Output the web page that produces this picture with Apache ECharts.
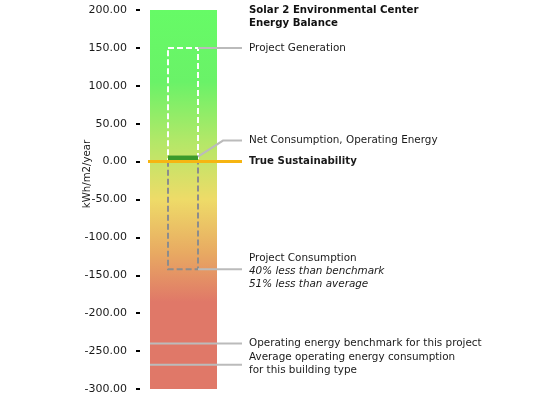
<!DOCTYPE html>
<html>
<head>
<meta charset="utf-8">
<script src="https://cdn.jsdelivr.net/npm/echarts@6/dist/echarts.min.js"></script>
<style>
html,body{margin:0;padding:0;background:#fff;}
#chart{width:553px;height:400px;}
</style>
</head>
<body>
<div id="chart"></div>
<script>
// ---- data ----
const axisRange = [-300, 200];
const axisStep = 50;
const axisTitle = 'kWh/m2/year';
const chartTitle = ['Solar 2 Environmental Center', 'Energy Balance'];
const generation = [0, 150];          // Project Generation
const consumption = [0, -142];        // Project Consumption
const netConsumption = [0, 8];        // Net Consumption, Operating Energy
const sustainability = [0];           // True Sustainability
const referenceNames = ['Operating energy benchmark for this project', 'Average operating energy consumption\nfor this building type'];
const referenceValues = [-240, -268];
const generationLabel = ['Project Generation'];
const netLabel = ['Net Consumption, Operating Energy'];
const sustainLabel = ['True Sustainability'];
const consumptionLabel = ['Project Consumption', '40% less than benchmark', '51% less than average'];

const FONT = 'DejaVu Sans, Verdana, sans-serif';
const FS = '10.4px ';
const TXT = '#1a1a1a';
const LEAD = '#bbbbbb';

const chart = echarts.init(document.getElementById('chart'));

function textEl(x, y, text, opts) {
  return {
    type: 'text', x: x, y: y, z2: 20,
    style: Object.assign({
      text: text, fill: TXT, font: FS + FONT,
      align: 'left', verticalAlign: 'middle'
    }, opts || {})
  };
}

function renderAll(params, api) {
  const cs = params.coordSys;
  const L = cs.x;
  const Y = v => api.coord([0, v])[1];
  const colL = L + 10, colR = L + cs.width;
  const innerL = L + 28, innerR = L + 58;
  const lineEnd = L + 102;
  const textX = L + 109;
  const els = [];

  // gradient balance column
  const yTop = Y(axisRange[1]), yBot = Y(axisRange[0]);
  els.push({
    type: 'rect', shape: {x: colL, y: yTop, width: colR - colL, height: yBot - yTop},
    style: {fill: new echarts.graphic.LinearGradient(0, 0, 0, 1, [
      {offset: 0, color: '#66fb66'},
      {offset: 0.19, color: '#6af268'},
      {offset: 0.34, color: '#b0e868'},
      {offset: 0.5, color: '#eedb68'},
      {offset: 0.64, color: '#e8aa62'},
      {offset: 0.77, color: '#e07868'},
      {offset: 1, color: '#e07868'}
    ])}
  });

  // project generation dashed box
  const g0 = Y(generation[0]), g1 = Y(generation[1]);
  els.push({
    type: 'rect', shape: {x: innerL, y: g1, width: innerR - innerL, height: g0 - g1},
    style: {fill: null, stroke: '#ffffff', lineWidth: 2, lineDash: [6, 3]}
  });
  // project consumption dashed box
  const c0 = Y(consumption[0]), c1 = Y(consumption[1]);
  els.push({
    type: 'rect', shape: {x: innerL, y: c0, width: innerR - innerL, height: c1 - c0},
    style: {fill: null, stroke: '#8c8c8c', lineWidth: 2, lineDash: [6, 3]}
  });
  // net consumption bar
  const n0 = Y(netConsumption[0]), n1 = Y(netConsumption[1]);
  els.push({
    type: 'rect', shape: {x: innerL, y: n1, width: innerR - innerL, height: n0 - n1},
    style: {fill: '#3a9a2a'}
  });
  // true sustainability line
  const s = Y(sustainability[0]);
  els.push({
    type: 'line', shape: {x1: colL - 2, y1: s, x2: lineEnd, y2: s},
    style: {stroke: '#f6b512', lineWidth: 3}
  });

  // leader lines
  els.push({type: 'line', shape: {x1: innerR, y1: g1, x2: lineEnd, y2: g1}, style: {stroke: LEAD, lineWidth: 2}});
  const netTextY = n1 - 15;
  els.push({type: 'polyline', shape: {points: [[innerR, n1 + 1], [L + 83, netTextY], [lineEnd, netTextY]]}, style: {stroke: LEAD, lineWidth: 2, fill: null}});
  els.push({type: 'line', shape: {x1: innerR, y1: c1, x2: lineEnd, y2: c1}, style: {stroke: LEAD, lineWidth: 2}});
  referenceValues.forEach(v => {
    const y = Y(v);
    els.push({type: 'line', shape: {x1: colL, y1: y, x2: lineEnd, y2: y}, style: {stroke: LEAD, lineWidth: 2}});
  });

  // labels
  els.push(textEl(textX, g1, generationLabel[0]));
  els.push(textEl(textX, netTextY, netLabel[0]));
  els.push(textEl(textX, s, sustainLabel[0], {font: 'bold 10.2px ' + FONT}));
  els.push(textEl(textX, c1 - 11, consumptionLabel[0]));
  els.push(textEl(textX, c1 + 2, consumptionLabel[1], {font: 'italic ' + FS + FONT}));
  els.push(textEl(textX, c1 + 15, consumptionLabel[2], {font: 'italic ' + FS + FONT}));
  els.push(textEl(textX, Y(referenceValues[0]), referenceNames[0]));
  els.push(textEl(textX, Y(referenceValues[1]) - 1, referenceNames[1], {lineHeight: 13}));

  return {type: 'group', children: els};
}

chart.setOption({
  animation: false,
  title: {
    text: chartTitle.join('\n'),
    left: 249, top: 4, padding: 0,
    textStyle: {fontFamily: FONT, fontSize: 10.2, fontWeight: 'bold', color: '#111', lineHeight: 13}
  },
  graphic: [{
    type: 'text', x: 87, y: 174, rotation: Math.PI / 2,
    style: {text: axisTitle, font: '10.2px ' + FONT, fill: TXT, align: 'center', verticalAlign: 'middle'}
  }],
  grid: {left: 140, width: 77, top: 10, bottom: 11},
  xAxis: {type: 'value', min: 0, max: 1, show: false},
  yAxis: {
    type: 'value', min: axisRange[0], max: axisRange[1], interval: axisStep,
    axisLine: {show: false},
    axisTick: {show: true, length: 4, lineStyle: {color: '#000', width: 2}},
    splitLine: {show: false},
    axisLabel: {margin: 13, color: TXT, fontFamily: FONT, fontSize: 11, formatter: v => v.toFixed(2)}
  },
  series: [{
    type: 'custom',
    renderItem: renderAll,
    data: [[0, 0]],
    clip: false,
    silent: true
  }]
});
</script>
</body>
</html>
